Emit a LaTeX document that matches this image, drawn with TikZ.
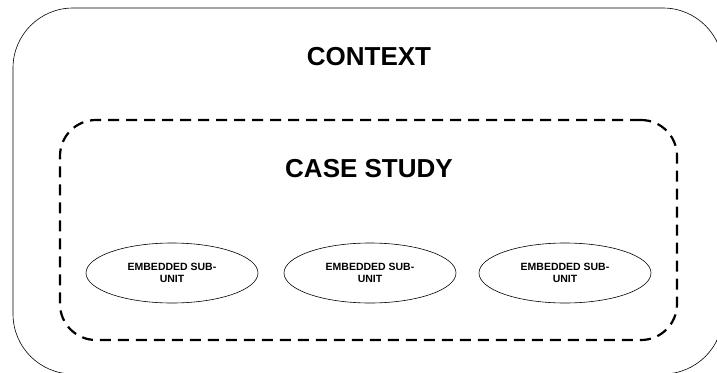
\documentclass[tikz,border=0pt]{standalone}
\usepackage{fontspec}
\setmainfont{Liberation Sans}
\usetikzlibrary{shapes.geometric}

\begin{document}
\begin{tikzpicture}[x=1pt,y=-1pt,semithick,
    title/.style={font=\fontsize{26}{30}\selectfont\bfseries},
    subunit/.style={shape=ellipse,draw=black,line width=0.6pt,minimum width=172pt,minimum height=60pt,
        inner sep=0pt,align=center,font=\fontsize{10.5}{12}\selectfont\bfseries}]
                \useasboundingbox (0,0) rectangle (717,372);
                \node[draw=black,rounded corners=60pt,minimum width=710pt,minimum height=366pt,
                    inner sep=0pt](context)at(368, 191){};
                \node[draw=black,dashed,line width=2.2pt,dash pattern=on 11pt off 7pt,
                    rounded corners=36pt,minimum width=617pt,minimum height=220pt,
                    inner sep=0pt](case)at(368.5, 230){};
                \node[title](contextlabel)at(369, 57){CONTEXT};
                \node[title](caselabel)at(369, 169){CASE STUDY};
                \node[subunit](sub1)at(172, 273){EMBEDDED SUB-\\UNIT};
                \node[subunit](sub2)at(370, 273){EMBEDDED SUB-\\UNIT};
                \node[subunit](sub3)at(565, 273){EMBEDDED SUB-\\UNIT};
            \end{tikzpicture}
\end{document}
